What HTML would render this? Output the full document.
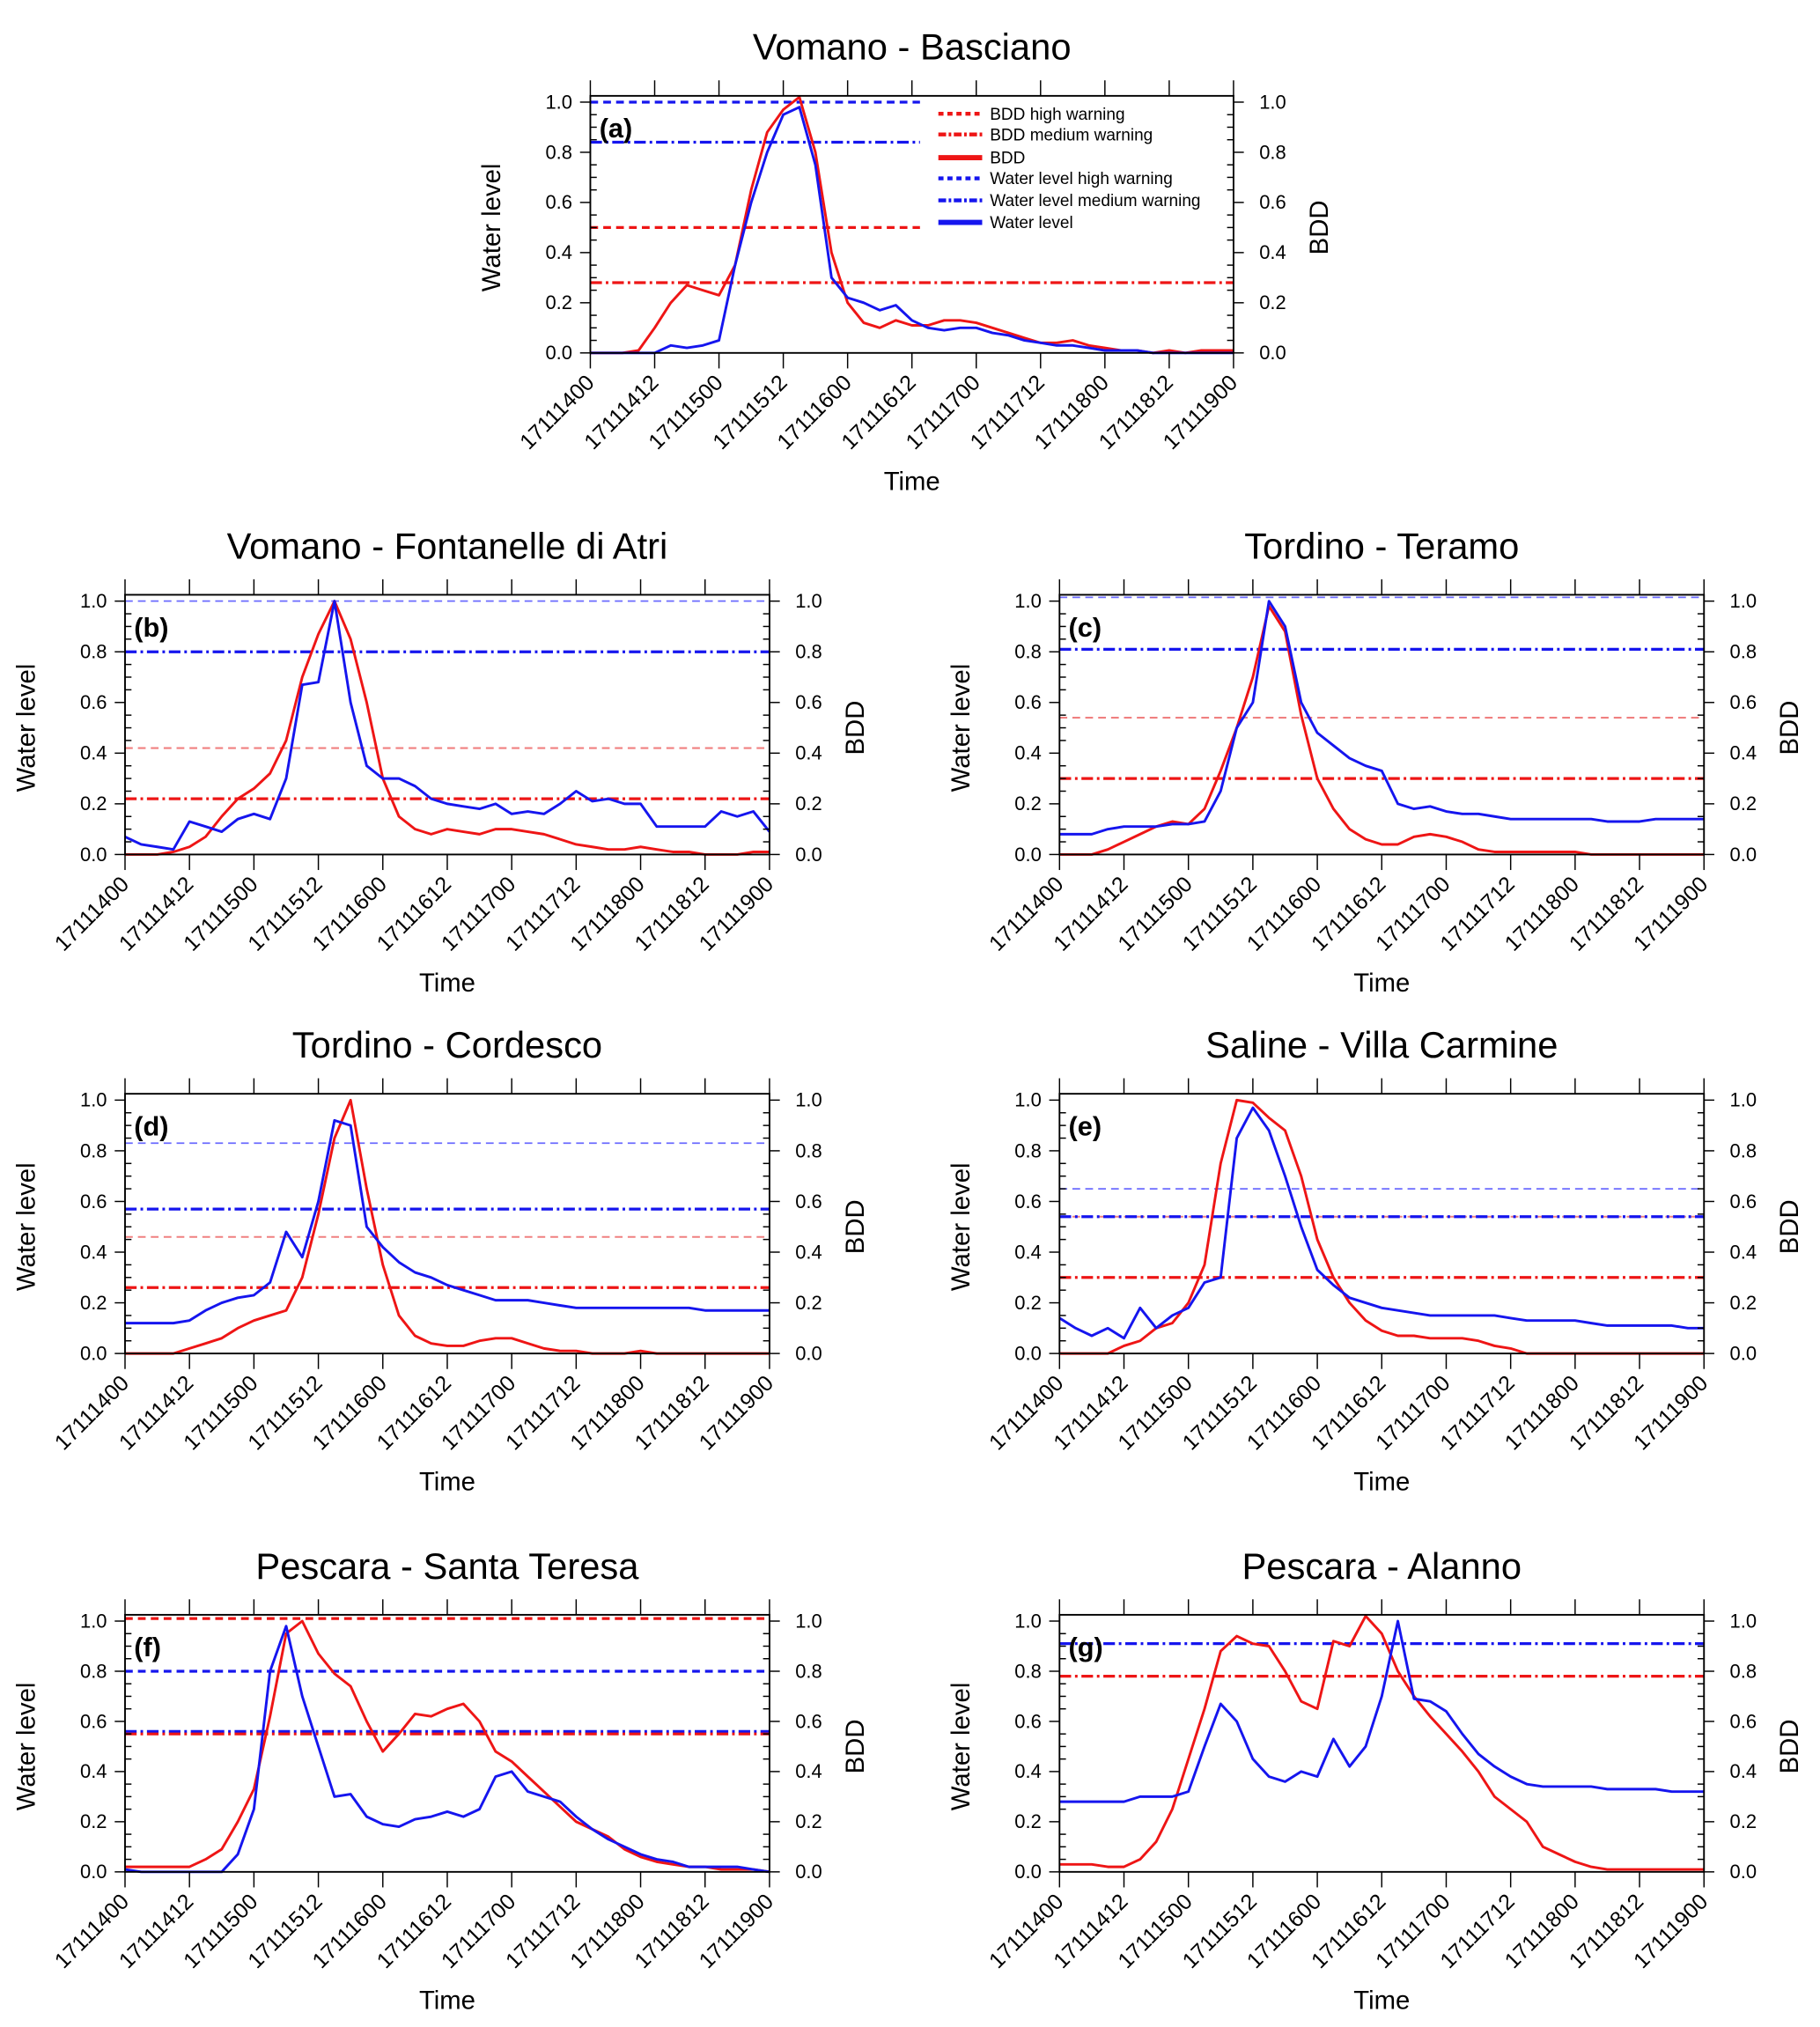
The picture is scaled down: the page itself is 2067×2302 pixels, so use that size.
<!DOCTYPE html>
<html><head><meta charset="utf-8"><style>
html,body{margin:0;padding:0;background:#fff;}
svg{display:block;}
text{font-family:"Liberation Sans",Arial,sans-serif;fill:#000;}
</style></head><body>
<svg id="fig" width="2067" height="2302" viewBox="0 0 1412 1568" preserveAspectRatio="none" xmlns="http://www.w3.org/2000/svg"></svg>
<script>
// x = hours since 17111400, sampled every 3 hours
const hours = Array.from({length:41},(_, i)=>i*3);
const tickLabels = ["17111400","17111412","17111500","17111512","17111600","17111612","17111700","17111712","17111800","17111812","17111900"];
const yTicks = [0,0.2,0.4,0.6,0.8,1.0];

const bddA = [0,0,0,0.01,0.1,0.2,0.27,0.25,0.23,0.35,0.65,0.88,0.97,1.02,0.8,0.4,0.2,0.12,0.1,0.13,0.11,0.11,0.13,0.13,0.12,0.1,0.08,0.06,0.04,0.04,0.05,0.03,0.02,0.01,0.01,0,0.01,0,0.01,0.01,0.01];
const wlA = [0,0,0,0,0,0.03,0.02,0.03,0.05,0.35,0.6,0.8,0.95,0.98,0.75,0.3,0.22,0.2,0.17,0.19,0.13,0.1,0.09,0.1,0.1,0.08,0.07,0.05,0.04,0.03,0.03,0.02,0.01,0.01,0.01,0,0,0,0,0,0];
const bddB = [0,0,0,0.01,0.03,0.07,0.15,0.22,0.26,0.32,0.45,0.7,0.87,1.0,0.85,0.6,0.3,0.15,0.1,0.08,0.1,0.09,0.08,0.1,0.1,0.09,0.08,0.06,0.04,0.03,0.02,0.02,0.03,0.02,0.01,0.01,0,0,0,0.01,0.01];
const wlB = [0.07,0.04,0.03,0.02,0.13,0.11,0.09,0.14,0.16,0.14,0.3,0.67,0.68,1.0,0.6,0.35,0.3,0.3,0.27,0.22,0.2,0.19,0.18,0.2,0.16,0.17,0.16,0.2,0.25,0.21,0.22,0.2,0.2,0.11,0.11,0.11,0.11,0.17,0.15,0.17,0.09];
const bddC = [0,0,0,0.02,0.05,0.08,0.11,0.13,0.12,0.18,0.33,0.5,0.7,0.98,0.88,0.55,0.3,0.18,0.1,0.06,0.04,0.04,0.07,0.08,0.07,0.05,0.02,0.01,0.01,0.01,0.01,0.01,0.01,0,0,0,0,0,0,0,0];
const wlC = [0.08,0.08,0.08,0.1,0.11,0.11,0.11,0.12,0.12,0.13,0.25,0.5,0.6,1.0,0.9,0.6,0.48,0.43,0.38,0.35,0.33,0.2,0.18,0.19,0.17,0.16,0.16,0.15,0.14,0.14,0.14,0.14,0.14,0.14,0.13,0.13,0.13,0.14,0.14,0.14,0.14];
const bddD = [0,0,0,0,0.02,0.04,0.06,0.1,0.13,0.15,0.17,0.3,0.55,0.85,1.0,0.65,0.35,0.15,0.07,0.04,0.03,0.03,0.05,0.06,0.06,0.04,0.02,0.01,0.01,0,0,0,0.01,0,0,0,0,0,0,0,0];
const wlD = [0.12,0.12,0.12,0.12,0.13,0.17,0.2,0.22,0.23,0.28,0.48,0.38,0.6,0.92,0.9,0.5,0.42,0.36,0.32,0.3,0.27,0.25,0.23,0.21,0.21,0.21,0.2,0.19,0.18,0.18,0.18,0.18,0.18,0.18,0.18,0.18,0.17,0.17,0.17,0.17,0.17];
const bddE = [0,0,0,0,0.03,0.05,0.1,0.12,0.2,0.35,0.75,1.0,0.99,0.93,0.88,0.7,0.45,0.3,0.2,0.13,0.09,0.07,0.07,0.06,0.06,0.06,0.05,0.03,0.02,0,0,0,0,0,0,0,0,0,0,0,0];
const wlE = [0.14,0.1,0.07,0.1,0.06,0.18,0.1,0.15,0.18,0.28,0.3,0.85,0.97,0.88,0.7,0.5,0.33,0.27,0.22,0.2,0.18,0.17,0.16,0.15,0.15,0.15,0.15,0.15,0.14,0.13,0.13,0.13,0.13,0.12,0.11,0.11,0.11,0.11,0.11,0.1,0.1];
const bddF = [0.02,0.02,0.02,0.02,0.02,0.05,0.09,0.2,0.33,0.62,0.95,1.0,0.87,0.79,0.74,0.6,0.48,0.55,0.63,0.62,0.65,0.67,0.6,0.48,0.44,0.38,0.32,0.26,0.2,0.17,0.14,0.09,0.06,0.04,0.03,0.02,0.02,0.01,0.01,0.01,0];
const wlF = [0.01,0,0,0,0,0,0,0.07,0.25,0.8,0.98,0.7,0.5,0.3,0.31,0.22,0.19,0.18,0.21,0.22,0.24,0.22,0.25,0.38,0.4,0.32,0.3,0.28,0.22,0.17,0.13,0.1,0.07,0.05,0.04,0.02,0.02,0.02,0.02,0.01,0];
const bddG = [0.03,0.03,0.03,0.02,0.02,0.05,0.12,0.25,0.45,0.65,0.88,0.94,0.91,0.9,0.8,0.68,0.65,0.92,0.9,1.02,0.95,0.8,0.7,0.62,0.55,0.48,0.4,0.3,0.25,0.2,0.1,0.07,0.04,0.02,0.01,0.01,0.01,0.01,0.01,0.01,0.01];
const wlG = [0.28,0.28,0.28,0.28,0.28,0.3,0.3,0.3,0.32,0.5,0.67,0.6,0.45,0.38,0.36,0.4,0.38,0.53,0.42,0.5,0.7,1.0,0.69,0.68,0.64,0.55,0.47,0.42,0.38,0.35,0.34,0.34,0.34,0.34,0.33,0.33,0.33,0.33,0.32,0.32,0.32];

const panels = [
 {id:"a",title:"Vomano - Basciano",x0:458,x1:957,y0:273,y1:79,bdd:bddA,wl:wlA,
  th:[{v:1.0,c:"#1515ee",d:"6,4",w:2.2,end:61.5},{v:0.84,c:"#1515ee",d:"9,3,2,3",w:2.2,end:61.5},{v:0.5,c:"#ee1515",d:"6,4",w:2.2,end:61.5},{v:0.28,c:"#ee1515",d:"9,3,2,3",w:2.2}],legend:true},
 {id:"b",title:"Vomano - Fontanelle di Atri",x0:97,x1:597,y0:661,y1:465,bdd:bddB,wl:wlB,
  th:[{v:1.0,c:"#6b6bff",d:"6,4",w:1.2},{v:0.8,c:"#1515ee",d:"9,3,2,3",w:2.2},{v:0.42,c:"#f08080",d:"6,4",w:1.4},{v:0.22,c:"#ee1515",d:"9,3,2,3",w:2.2}]},
 {id:"c",title:"Tordino - Teramo",x0:822,x1:1322,y0:661,y1:465,bdd:bddC,wl:wlC,
  th:[{v:1.015,c:"#6b6bff",d:"6,4",w:1.2},{v:0.81,c:"#1515ee",d:"9,3,2,3",w:2.2},{v:0.54,c:"#f08080",d:"6,4",w:1.4},{v:0.3,c:"#ee1515",d:"9,3,2,3",w:2.2}]},
 {id:"d",title:"Tordino - Cordesco",x0:97,x1:597,y0:1047,y1:851,bdd:bddD,wl:wlD,
  th:[{v:0.83,c:"#6b6bff",d:"6,4",w:1.2},{v:0.57,c:"#1515ee",d:"9,3,2,3",w:2.2},{v:0.46,c:"#f08080",d:"6,4",w:1.4},{v:0.26,c:"#ee1515",d:"9,3,2,3",w:2.2}]},
 {id:"e",title:"Saline - Villa Carmine",x0:822,x1:1322,y0:1047,y1:851,bdd:bddE,wl:wlE,
  th:[{v:0.65,c:"#6b6bff",d:"6,4",w:1.2},{v:0.54,c:"#f08080",d:"6,4",w:1.4},{v:0.54,c:"#1515ee",d:"9,3,2,3",w:2.2},{v:0.3,c:"#ee1515",d:"9,3,2,3",w:2.2}]},
 {id:"f",title:"Pescara - Santa Teresa",x0:97,x1:597,y0:1448,y1:1254,bdd:bddF,wl:wlF,
  th:[{v:1.01,c:"#ee1515",d:"6,4",w:2.2},{v:0.8,c:"#1515ee",d:"6,4",w:2.2},{v:0.56,c:"#1515ee",d:"9,3,2,3",w:2.2},{v:0.55,c:"#ee1515",d:"9,3,2,3",w:2.2}]},
 {id:"g",title:"Pescara - Alanno",x0:822,x1:1322,y0:1448,y1:1254,bdd:bddG,wl:wlG,
  th:[{v:0.91,c:"#1515ee",d:"9,3,2,3",w:2.2},{v:0.78,c:"#ee1515",d:"9,3,2,3",w:2.2}]}
];

const NS="http://www.w3.org/2000/svg";
const svg=document.getElementById("fig");
function mk(tag,attrs,parent){const e=document.createElementNS(NS,tag);for(const k in attrs)e.setAttribute(k,attrs[k]);(parent||svg).appendChild(e);return e;}

panels.forEach(p=>{
  const g=mk("g",{});
  
  
  const X=h=>p.x0+(p.x1-p.x0)*h/120;
  const Y=v=>p.y0+(p.y1-p.y0)*v;
  const cx=(p.x0+p.x1)/2;
  const t=mk("text",{x:cx,y:Y(1.025)-28,"text-anchor":"middle","font-size":28.5},g);t.textContent=p.title;
  
  
  p.th.forEach(th=>{
    const l=mk("line",{x1:X(0),x2:X(th.end||120),y1:Y(th.v),y2:Y(th.v),stroke:th.c,"stroke-width":th.w,"stroke-dasharray":th.d},g);
    
    
  });
  const line=(arr,col,name)=>{
    const pts=arr.map((v,i)=>X(hours[i]).toFixed(1)+","+Y(v).toFixed(1)).join(" ");
    const pl=mk("polyline",{points:pts,fill:"none",stroke:col,"stroke-width":2,"stroke-linejoin":"round"},g);
    
    
  };
  line(p.bdd,"#ee1515","bdd-line");
  line(p.wl,"#1515ee","water-level-line");
  const top=Y(1.025);
  const fr=mk("rect",{x:p.x0,y:top,width:p.x1-p.x0,height:p.y0-top,fill:"none",stroke:"#000","stroke-width":1.3},g);
  
  
  tickLabels.forEach((lab,i)=>{
    const x=X(i*12);
    mk("line",{x1:x,x2:x,y1:top,y2:top-12,stroke:"#000","stroke-width":1},g);
    mk("line",{x1:x,x2:x,y1:p.y0,y2:p.y0+12,stroke:"#000","stroke-width":1},g);
    const tx=mk("text",{x:x+4,y:p.y0+24,"text-anchor":"end","font-size":17,transform:`rotate(-45 ${x+4} ${p.y0+24})`},g);
    tx.textContent=lab;
    
    
  });
  for(let k=0;k<=20;k++){
    const v=k*0.05,y=Y(v),maj=k%4===0;
    if(maj){
      mk("line",{x1:p.x0-8,x2:p.x0,y1:y,y2:y,stroke:"#000","stroke-width":1},g);
      mk("line",{x1:p.x1,x2:p.x1+8,y1:y,y2:y,stroke:"#000","stroke-width":1},g);
    } else {
      mk("line",{x1:p.x0,x2:p.x0+5,y1:y,y2:y,stroke:"#000","stroke-width":1},g);
      mk("line",{x1:p.x1-5,x2:p.x1,y1:y,y2:y,stroke:"#000","stroke-width":1},g);
    }
  }
  yTicks.forEach(v=>{
    const a=mk("text",{x:p.x0-14,y:Y(v)+5,"text-anchor":"end","font-size":15},g);a.textContent=v.toFixed(1);
    
    
    const b=mk("text",{x:p.x1+20,y:Y(v)+5,"text-anchor":"start","font-size":15},g);b.textContent=v.toFixed(1);
    
    
  });
  const ym=(p.y0+Y(1))/2;
  const wlT=mk("text",{x:p.x0-70,y:ym,"text-anchor":"middle","font-size":20,transform:`rotate(-90 ${p.x0-70} ${ym})`},g);
  wlT.textContent="Water  level";
  
  
  const bT=mk("text",{x:p.x1+73,y:ym,"text-anchor":"middle","font-size":20,transform:`rotate(-90 ${p.x1+73} ${ym})`},g);
  bT.textContent="BDD";
  
  
  const tT=mk("text",{x:cx,y:p.y0+106,"text-anchor":"middle","font-size":20},g);tT.textContent="Time";
  
  
  const lt=mk("text",{x:p.x0+7,y:Y(0.87)+2,"font-size":21,"font-weight":"bold"},g);lt.textContent="("+p.id+")";
  
  
  if(p.legend){
    const items=[["BDD high warning","#ee1515","4,3",3],["BDD medium warning","#ee1515","6,2,2,2",3],["BDD","#ee1515","",4],["Water level high warning","#1515ee","4,3",3],["Water level medium warning","#1515ee","6,2,2,2",3],["Water level","#1515ee","",4]];
    const ys=[88,104,122,138,155,172];
    items.forEach((it,i)=>{
      const lg=mk("g",{},g);
      
      
      mk("line",{x1:728,x2:762,y1:ys[i],y2:ys[i],stroke:it[1],"stroke-width":it[3],"stroke-dasharray":it[2]},lg);
      const tx=mk("text",{x:768,y:ys[i]+4.5,"font-size":13},lg);tx.textContent=it[0];
    });
  }
});
</script>
</body></html>
